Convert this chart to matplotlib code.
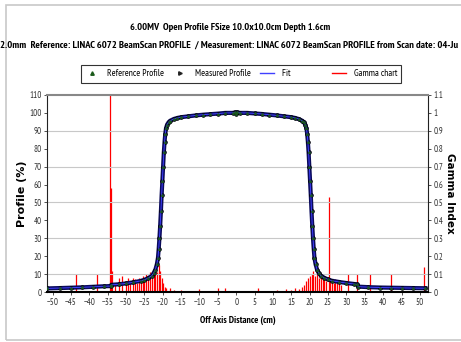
import matplotlib
matplotlib.use("Agg")
import matplotlib.pyplot as plt
from matplotlib.patches import Rectangle

plt.rcParams['font.family'] = ['PT Sans Narrow', 'Archivo Narrow', 'Liberation Sans', 'DejaVu Sans']

# measured / reference profile (off axis distance cm, profile %)
pos = [-51.5, -48, -45, -42, -39, -36, -34.2, -34, -32, -30, -28, -26, -25, -24, -23,
       -22.5, -22, -21.6, -21.3, -21.1, -20.9, -20.7, -20.5, -20.3, -20.1, -19.9,
       -19.7, -19.5, -19.3, -19.1, -18.8, -18.4, -18, -17, -16, -15, -13, -11, -9,
       -7, -5, -3, -1, -0.3, 0, 0.3, 1, 3, 5, 7, 9, 11, 13, 15, 16, 17, 18, 18.4,
       18.8, 19.1, 19.3, 19.5, 19.7, 19.9, 20.1, 20.3, 20.5, 20.7, 20.9, 21.1, 21.3,
       21.6, 22, 22.5, 23, 24, 25, 26, 28, 30, 32, 33, 33.2, 36, 39, 42, 45, 48, 51.5]
profile = [2.0, 2.2, 2.4, 2.6, 2.9, 3.2, 3.3, 4.0, 4.3, 4.8, 5.4, 6.2, 6.8, 7.7, 9.0,
           10.5, 12.5, 15.5, 19, 24, 30, 37, 45, 54, 62, 70,
           78, 84, 88.5, 91.5, 93.5, 94.8, 95.6, 96.6, 97.2, 97.6, 98.1, 98.6, 99.0,
           99.3, 99.6, 100, 100, 100.3, 99.6, 100.3, 100, 100, 99.7, 99.4, 99.0, 98.6, 98.1, 97.6, 97.2, 96.6, 95.6, 94.8,
           93.5, 91.5, 88.5, 84, 78, 70, 62, 54, 45, 37, 30, 24, 19,
           15.5, 12.5, 10.5, 9.2, 7.9, 7.0, 6.3, 5.6, 5.0, 4.5, 4.2, 3.0, 2.7, 2.5, 2.4, 2.3, 2.2, 2.1]

# gamma index spikes (cm, gamma)
g_pos = [-43.5, -38, -34.3, -34.1, -33.8, -33, -32, -31, -30, -29.5, -29, -28, -27.5,
         -27, -26.5, -26, -25.5, -25, -24.5, -24, -23.5, -23, -22.5, -22, -21.5, -21,
         -20.7, -20.3, -20, -19.5, -19, -18, -17, -15, -10, -5, -3, 6, 11, 13.5, 15, 16,
         17, 18, 18.5, 19, 19.5, 20, 20.5, 21, 21.5, 22, 22.5, 23, 23.5, 24, 24.5, 25.3,
         25.6, 26, 26.5, 27, 27.5, 28, 28.5, 30.5, 33, 36.5, 42, 51]
gamma = [0.10, 0.10, 1.10, 0.58, 0.12, 0.05, 0.08, 0.09, 0.06, 0.08, 0.06, 0.08, 0.07,
         0.05, 0.08, 0.06, 0.09, 0.07, 0.10, 0.08, 0.11, 0.09, 0.10, 0.12, 0.11, 0.15,
         0.12, 0.08, 0.05, 0.03, 0.02, 0.02, 0.01, 0.01, 0.015, 0.02, 0.02, 0.02, 0.01, 0.015, 0.01, 0.02,
         0.015, 0.03, 0.04, 0.06, 0.08, 0.09, 0.10, 0.12, 0.09, 0.11, 0.08, 0.10, 0.07, 0.09, 0.06, 0.53,
         0.07, 0.06, 0.05, 0.07, 0.05, 0.06, 0.04, 0.10, 0.10, 0.10, 0.10, 0.14]

fig = plt.figure(figsize=(4.61, 3.42), dpi=100)
fig.patches.append(Rectangle((6 / 461, 2 / 342), 1.2, 335 / 342, transform=fig.transFigure,
                             fill=False, edgecolor='#c8c8c8', lw=1.2))

ax = fig.add_axes([47 / 461, 50 / 342, 381 / 461, 197 / 342])
ax2 = ax.twinx()
ax.set_zorder(ax2.get_zorder() + 1)
ax.patch.set_visible(False)

ax2.vlines(g_pos, 0, gamma, color='red', lw=0.9)
ax2.set_ylim(0, 1.1)
ax2.set_yticks([i / 10 for i in range(12)])
ax2.set_yticklabels(['0', '0.1', '0.2', '0.3', '0.4', '0.5', '0.6', '0.7', '0.8', '0.9', '1', '1.1'])

for v in [10, 30, 50, 70, 90]:
    ax.axhline(v, color='#c8c8c8', lw=0.8, zorder=0)

ax.plot(pos, profile, color='#0a0a5a', lw=3, zorder=2)
ax.plot(pos, profile, linestyle='none', marker='o', ms=2.6, mfc='#10106a', mec='black', mew=0.6, zorder=3)
ax.plot(pos, profile, color='#4040ff', lw=0.7, zorder=4)
ax.plot(pos, profile, linestyle='none', marker='^', ms=1.2, color='#1a5a1a', zorder=5)

ax.set_xlim(-51.5, 52.2)
ax.set_ylim(0, 110)
ax.set_xticks(range(-50, 51, 5))
ax.set_yticks(range(0, 111, 10))

for a in (ax, ax2):
    a.tick_params(labelsize=6.5, length=2.5, width=0.6, pad=1.5, colors='#333333')
for s in ['left', 'right']:
    ax.spines[s].set_color('#222222')
ax.spines['top'].set_color('#888888')
ax.spines['top'].set_linewidth(1.5)
ax.spines['bottom'].set_linewidth(1.5)
for s in ax2.spines.values():
    s.set_visible(False)

ax.set_ylabel('Profile (%)', fontsize=8, fontweight='bold', family='DejaVu Sans')
ax.yaxis.set_label_coords(-20 / 381, 0.5)
ax2.set_ylabel('Gamma Index', fontsize=7.5, fontweight='bold', family='DejaVu Sans', rotation=-90, va='center')
ax2.yaxis.set_label_coords(1 + 22 / 381, 0.5)
ax.set_xlabel('Off Axis Distance (cm)', fontsize=7, fontweight='bold', labelpad=7)

fig.text(0.5, 1 - 27 / 342, '6.00MV  Open Profile FSize 10.0x10.0cm Depth 1.6cm',
         ha='center', va='center', fontsize=7.4, fontweight='bold')
fig.text(0.0, 1 - 45 / 342,
         '2.0mm  Reference: LINAC 6072 BeamScan PROFILE  / Measurement: LINAC 6072 BeamScan PROFILE from Scan date: 04-Ju',
         ha='left', va='center', fontsize=7.55, fontweight='bold')

h1, = ax.plot([], [], linestyle='none', marker='^', ms=2.5, color='#1a5a1a')
h2, = ax.plot([], [], linestyle='none', marker='>', ms=2.5, color='#222222')
h3, = ax.plot([], [], color='#4040ff', lw=1)
h4, = ax.plot([], [], color='red', lw=1)
leg = fig.legend([h1, h2, h3, h4], ['Reference Profile', 'Measured Profile', 'Fit                ', 'Gamma chart'],
                 ncol=4, loc='center', bbox_to_anchor=(241 / 461, 1 - 74 / 342), fontsize=6.8,
                 frameon=True, fancybox=False, edgecolor='black', handlelength=1.5, columnspacing=1.0,
                 borderpad=0.45, shadow=False)
leg.get_frame().set_linewidth(0.8)

fig.savefig('out.png', dpi=100)
